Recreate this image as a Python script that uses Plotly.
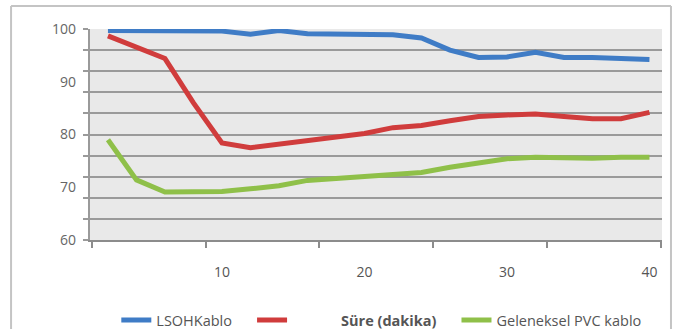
import plotly.graph_objects as go

# ---- data ----
minutes = [2, 4, 6, 8, 10, 12, 14, 16, 18, 20, 22, 24, 26, 28, 30, 32, 34, 36, 38, 40]
lsoh = [99.7, 99.7, 99.7, 99.7, 99.6, 99.0, 99.7, 99.1, 99.1, 99.1,
        98.9, 98.3, 96.0, 94.6, 94.7, 95.6, 94.6, 94.6, 94.3, 94.2]
sure = [98.7, 96.5, 94.4, 86.0, 78.4, 77.5, 78.2, 78.9, 79.4, 80.2,
        81.3, 81.7, 82.6, 83.4, 83.7, 83.9, 83.4, 83.0, 83.0, 84.2]
pvc = [79.0, 71.4, 69.1, 69.1, 69.2, 69.7, 70.3, 71.3, 71.7, 72.1,
       72.4, 72.8, 73.8, 74.6, 75.4, 75.7, 75.5, 75.5, 75.7, 75.7]

NB = "\u00a0"
names = ["LSOHKablo" + NB * 4,
         NB * 13 + "<b>Süre (dakika)</b>" + NB * 4,
         "Geleneksel PVC kablo"]
colors = ["#3f7cc6", "#d03c3c", "#8fc049"]

x_labels = [10, 20, 30, 40]
x_tickmarks = [0.88, 8.85, 16.8, 24.8, 32.8, 40.8]
y_labels = [60, 70, 80, 90, 100]
y_grid = [60, 64, 68, 72, 76, 80, 84, 88, 92, 96, 100]

FONT = "Open Sans, Roboto, sans-serif"

fig = go.Figure()
for ys, nm, col in zip([lsoh, sure, pvc], names, colors):
    fig.add_trace(go.Scatter(x=minutes, y=ys, mode="lines", name=nm,
                             line=dict(color=col, width=5), cliponaxis=False))
# empty trace so that the label axis (y2) is drawn
fig.add_trace(go.Scatter(x=[None], y=[None], yaxis="y2", showlegend=False,
                         hoverinfo="skip"))

fig.update_layout(
    width=676, height=329,
    margin=dict(l=90, r=14, t=29, b=89, autoexpand=False),
    paper_bgcolor="white",
    plot_bgcolor="#e9e9e9",
    font=dict(family=FONT, size=14, color="#666666"),
    showlegend=True,
    legend=dict(orientation="h", x=0.046, xanchor="left", y=-0.304, yanchor="top",
                font=dict(family=FONT, size=14.5, color="#555555"),
                bgcolor="rgba(0,0,0,0)"),
    xaxis=dict(range=[0.74, 40.88], tickmode="array", tickvals=x_labels,
               ticks="", ticklabelstandoff=18, showgrid=False, zeroline=False,
               showline=True, linecolor="#8c8c8c", linewidth=2,
               tickfont=dict(size=14, color="#555555"),
               minor=dict(tickmode="array", tickvals=x_tickmarks, ticks="outside",
                          ticklen=6, tickwidth=2, tickcolor="#8c8c8c", showgrid=False)),
    yaxis=dict(range=[60, 100], tickmode="array", tickvals=y_grid,
               showticklabels=False, ticks="outside", ticklen=5, tickwidth=2,
               tickcolor="#9a9a9a", showgrid=True, gridcolor="#9a9a9a", gridwidth=2,
               zeroline=False, showline=True, linecolor="#9a9a9a", linewidth=2),
    yaxis2=dict(range=[60, 100], overlaying="y", side="left", anchor="x",
                tickmode="array", tickvals=y_labels, ticks="", showgrid=False,
                zeroline=False, showline=False, ticklabelstandoff=13,
                tickfont=dict(size=14, color="#666666")),
)

# outer chart frame (top, left and right edges)
frame = dict(type="line", xref="paper", yref="paper",
             line=dict(color="#c4c4c4", width=2), layer="above")
fig.add_shape(x0=-0.138, x1=1.0157, y0=1.109, y1=1.109, **frame)
fig.add_shape(x0=-0.138, x1=-0.138, y0=1.109, y1=-0.46, **frame)
fig.add_shape(x0=1.0157, x1=1.0157, y0=1.109, y1=-0.46, **frame)

fig.write_html("out.html", config={"displayModeBar": False},
               post_script="document.body.style.margin='0px';"
                           "document.body.style.overflow='hidden';")
